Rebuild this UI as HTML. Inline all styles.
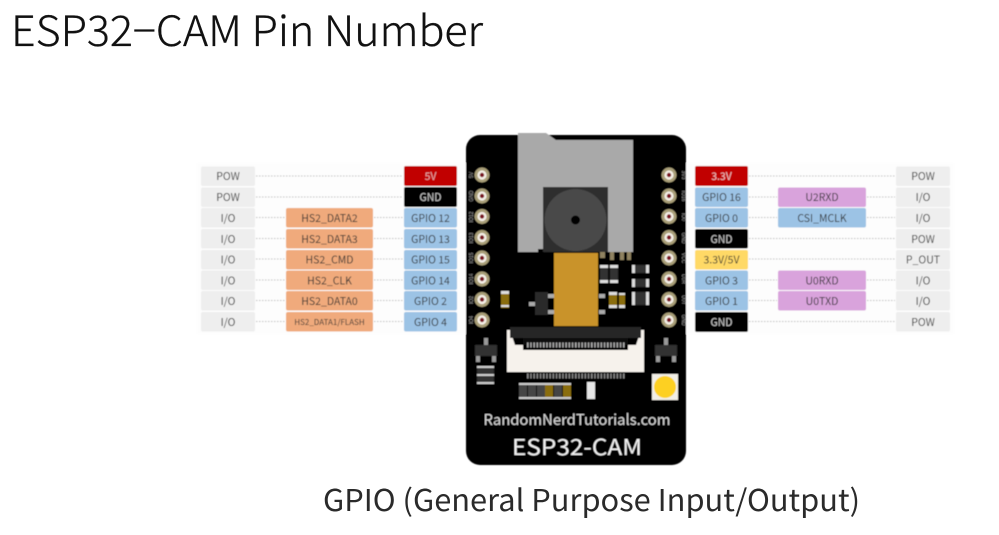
<!DOCTYPE html>
<html><head><meta charset="utf-8">
<style>
html,body{margin:0;padding:0;background:#fff;width:999px;height:535px;overflow:hidden}
svg{display:block}
.l{font-family:"Noto Sans CJK KR","Liberation Sans",sans-serif;font-size:10.5px;text-anchor:middle;fill:#333}
.w{fill:#eee}
.t{font-family:"Liberation Sans",sans-serif;font-size:5px;fill:#999;text-anchor:middle}
</style></head><body>
<svg width="999" height="535" viewBox="0 0 999 535" xmlns="http://www.w3.org/2000/svg">
<defs>
<filter id="b" x="-5%" y="-5%" width="110%" height="110%"><feGaussianBlur stdDeviation="0.55"/></filter>
<g id="pin"><circle r="7.5" fill="#a99f78"/><circle r="4.6" fill="#f4efe6"/><circle r="2.2" fill="#7a1420"/></g>
</defs>
<text x="11" y="46" font-family="'Noto Sans CJK KR','Liberation Sans',sans-serif" font-size="42" font-weight="300" fill="#111" stroke="#111" stroke-width="0.35" textLength="472" lengthAdjust="spacingAndGlyphs">ESP32−CAM Pin Number</text>
<text x="323" y="511" font-family="'Noto Sans CJK KR','Liberation Sans',sans-serif" font-size="30" fill="#2a2a2a" textLength="537" lengthAdjust="spacingAndGlyphs">GPIO (General Purpose Input/Output)</text>

<g filter="url(#b)">
<rect x="197" y="163" width="757" height="171" fill="#fdfdfd"/>
<!-- connectors -->
<g stroke="#bdbdbd" stroke-width="1" stroke-dasharray="1.5 1.5">
<path d="M256 176H403M256 197H403M256 217.500H285M374 217.500H403M256 238.500H285M374 238.500H403M256 259H285M374 259H403M256 280H285M374 280H403M256 300.500H285M374 300.500H403M256 321.500H285M374 321.500H403"/>
<path d="M749 176H895M749 197H777M867 197H895M749 217.500H777M867 217.500H895M749 238.500H895M749 259H895M749 280H777M867 280H895M749 300.500H777M867 300.500H895M749 321.500H895"/>
</g>
<!-- left POW col -->
<g class="w">
<rect x="201" y="166.500" width="54" height="19.500" rx="2"/><rect x="201" y="187.500" width="54" height="19.500" rx="2"/><rect x="201" y="208" width="54" height="19.500" rx="2"/><rect x="201" y="229" width="54" height="19.500" rx="2"/><rect x="201" y="250" width="54" height="19.500" rx="2"/><rect x="201" y="270.500" width="54" height="19.500" rx="2"/><rect x="201" y="291" width="54" height="19.500" rx="2"/><rect x="201" y="312" width="54" height="19.500" rx="2"/>
<rect x="896" y="166.500" width="54" height="19.500" rx="2"/><rect x="896" y="187.500" width="54" height="19.500" rx="2"/><rect x="896" y="208" width="54" height="19.500" rx="2"/><rect x="896" y="229" width="54" height="19.500" rx="2"/><rect x="896" y="250" width="54" height="19.500" rx="2"/><rect x="896" y="270.500" width="54" height="19.500" rx="2"/><rect x="896" y="291" width="54" height="19.500" rx="2"/><rect x="896" y="312" width="54" height="19.500" rx="2"/>
</g>
<!-- orange -->
<g fill="#f0aa7c">
<rect x="286" y="208" width="87" height="19.500" rx="2"/><rect x="286" y="229" width="87" height="19.500" rx="2"/><rect x="286" y="250" width="87" height="19.500" rx="2"/><rect x="286" y="270.500" width="87" height="19.500" rx="2"/><rect x="286" y="291" width="87" height="19.500" rx="2"/><rect x="286" y="312" width="87" height="19.500" rx="2"/>
</g>
<!-- left pins -->
<rect x="404" y="166" width="53" height="20" rx="2" fill="#c10000"/>
<rect x="404" y="187" width="53" height="20" rx="2" fill="#000"/>
<g fill="#9cc3e5">
<rect x="404" y="208" width="53" height="19.500" rx="2"/><rect x="404" y="229" width="53" height="19.500" rx="2"/><rect x="404" y="250" width="53" height="19.500" rx="2"/><rect x="404" y="270.500" width="53" height="19.500" rx="2"/><rect x="404" y="291" width="53" height="19.500" rx="2"/><rect x="404" y="312" width="53" height="19.500" rx="2"/>
</g>
<!-- right pins -->
<rect x="695" y="166" width="53" height="20" rx="2" fill="#c10000"/>
<rect x="695" y="187.500" width="53" height="19.500" rx="2" fill="#9cc3e5"/>
<rect x="695" y="208" width="53" height="19.500" rx="2" fill="#9cc3e5"/>
<rect x="695" y="229" width="53" height="19.500" rx="2" fill="#000"/>
<rect x="695" y="250" width="53" height="19.500" rx="2" fill="#ffd966"/>
<rect x="695" y="270.500" width="53" height="19.500" rx="2" fill="#9cc3e5"/>
<rect x="695" y="291" width="53" height="19.500" rx="2" fill="#9cc3e5"/>
<rect x="695" y="312" width="53" height="20" rx="2" fill="#000"/>
<!-- mid right -->
<rect x="778" y="187.500" width="88" height="19.500" rx="2" fill="#d9a3dc"/>
<rect x="778" y="208" width="88" height="19.500" rx="2" fill="#9cc3e5"/>
<rect x="778" y="270.500" width="88" height="19.500" rx="2" fill="#d9a3dc"/>
<rect x="778" y="291" width="88" height="19.500" rx="2" fill="#d9a3dc"/>

<!-- labels -->
<g class="l">
<text x="228" y="180">POW</text><text x="228" y="201">POW</text><text x="228" y="222">I/O</text><text x="228" y="243">I/O</text><text x="228" y="263.500">I/O</text><text x="228" y="284.500">I/O</text><text x="228" y="305">I/O</text><text x="228" y="326">I/O</text>
<text x="923" y="180">POW</text><text x="923" y="201">I/O</text><text x="923" y="222">I/O</text><text x="923" y="243">POW</text><text x="923" y="263.500">P_OUT</text><text x="923" y="284.500">I/O</text><text x="923" y="305">I/O</text><text x="923" y="326">POW</text>
<text x="329.500" y="222">HS2_DATA2</text><text x="329.500" y="243">HS2_DATA3</text><text x="329.500" y="263.500">HS2_CMD</text><text x="329.500" y="284.500">HS2_CLK</text><text x="329.500" y="305">HS2_DATA0</text>
<text x="329.500" y="325" style="font-size:8px">HS2_DATA1/FLASH</text>
<text x="430.500" y="180" style="fill:#e8a8a8">5V</text><text x="430.500" y="201" style="fill:#ccc">GND</text><text x="430.500" y="222">GPIO 12</text><text x="430.500" y="243">GPIO 13</text><text x="430.500" y="263.500">GPIO 15</text><text x="430.500" y="284.500">GPIO 14</text><text x="430.500" y="305">GPIO 2</text><text x="430.500" y="326">GPIO 4</text>
<text x="721.500" y="180" style="fill:#f0c0c0">3.3V</text><text x="721.500" y="201">GPIO 16</text><text x="721.500" y="222">GPIO 0</text><text x="721.500" y="243" style="fill:#ccc">GND</text><text x="721.500" y="263.500">3.3V/5V</text><text x="721.500" y="284.500">GPIO 3</text><text x="721.500" y="305">GPIO 1</text><text x="721.500" y="326" style="fill:#ccc">GND</text>
<text x="822" y="201">U2RXD</text><text x="822" y="222">CSI_MCLK</text><text x="822" y="284.500">U0RXD</text><text x="822" y="305">U0TXD</text>
</g>

<!-- board -->
<rect x="466" y="135" width="220" height="330" rx="14" fill="#000"/>
<!-- sd -->
<path d="M518 133H546L556 140H633V252H518Z" fill="#a9a9a9"/>
<rect x="543" y="187" width="65" height="65" fill="#2e2e2e"/>
<circle cx="575.500" cy="220" r="31" fill="#4a4a4a"/>
<circle cx="575.500" cy="220" r="4.500" fill="#000"/>
<rect x="538" y="249" width="5" height="5" fill="#000"/>
<g fill="#8f8260"><rect x="600" y="252" width="5" height="6"/><rect x="610" y="252" width="4" height="8"/><rect x="620" y="252" width="4" height="8"/><rect x="627" y="252" width="4" height="8"/></g>
<rect x="554" y="253" width="44" height="73" fill="#c9932a"/>
<!-- pins -->
<use href="#pin" x="482" y="175"/><use href="#pin" x="482" y="196"/><use href="#pin" x="482" y="216.500"/><use href="#pin" x="482" y="237.500"/><use href="#pin" x="482" y="258"/><use href="#pin" x="482" y="279"/><use href="#pin" x="482" y="299.500"/><use href="#pin" x="482" y="320"/>
<use href="#pin" x="669" y="175"/><use href="#pin" x="669" y="196"/><use href="#pin" x="669" y="216.500"/><use href="#pin" x="669" y="237.500"/><use href="#pin" x="669" y="258"/><use href="#pin" x="669" y="279"/><use href="#pin" x="669" y="299.500"/><use href="#pin" x="669" y="320"/>
<g class="t">
<text transform="translate(473,175) rotate(-90)">5V</text><text transform="translate(473,196) rotate(-90)">GND</text><text transform="translate(473,217) rotate(-90)">IO12</text><text transform="translate(473,238) rotate(-90)">IO13</text><text transform="translate(473,258) rotate(-90)">IO15</text><text transform="translate(473,279) rotate(-90)">IO14</text><text transform="translate(473,300) rotate(-90)">IO2</text><text transform="translate(473,320) rotate(-90)">IO4</text>
<text transform="translate(682,175) rotate(90)">3V3</text><text transform="translate(682,196) rotate(90)">IO16</text><text transform="translate(682,217) rotate(90)">IO0</text><text transform="translate(682,238) rotate(90)">GND</text><text transform="translate(682,258) rotate(90)">VCC</text><text transform="translate(682,279) rotate(90)">U0R</text><text transform="translate(682,300) rotate(90)">U0T</text><text transform="translate(682,320) rotate(90)">GND</text>
</g>
<!-- small components upper right -->
<g>
<rect x="600" y="265" width="8" height="18" fill="#333"/><rect x="600" y="265" width="8" height="3" fill="#ddd"/><rect x="600" y="280" width="8" height="3" fill="#ddd"/>
<rect x="610" y="265" width="8" height="18" fill="#333"/><rect x="610" y="265" width="8" height="3" fill="#ddd"/><rect x="610" y="280" width="8" height="3" fill="#ddd"/>
<rect x="632" y="265" width="17" height="8" fill="#333"/><rect x="632" y="265" width="3" height="8" fill="#ddd"/><rect x="646" y="265" width="3" height="8" fill="#ddd"/>
<rect x="632" y="279" width="17" height="8" fill="#333"/><rect x="632" y="279" width="3" height="8" fill="#ddd"/><rect x="646" y="279" width="3" height="8" fill="#ddd"/>
<rect x="632" y="292" width="17" height="13" fill="#333"/><rect x="632" y="292" width="3" height="13" fill="#ddd"/><rect x="646" y="292" width="3" height="13" fill="#ddd"/>
<rect x="501" y="291" width="8" height="17" fill="#8a6d10"/><rect x="501" y="291" width="8" height="3" fill="#ddd"/><rect x="501" y="305" width="8" height="2" fill="#ddd"/>
<rect x="609" y="292" width="8" height="16" fill="#8a6d10"/><rect x="609" y="292" width="8" height="3" fill="#ddd"/><rect x="609" y="305" width="8" height="3" fill="#ddd"/>
<rect x="619" y="293" width="6" height="15" fill="#8a6d10"/><rect x="619" y="293" width="6" height="2" fill="#ddd"/><rect x="619" y="305" width="6" height="3" fill="#ddd"/>
<rect x="535" y="292" width="13" height="23" fill="#2c2c2c"/><rect x="548" y="294" width="6" height="4" fill="#aaa"/><rect x="548" y="310" width="6" height="4" fill="#aaa"/><rect x="529" y="302" width="6" height="4" fill="#aaa"/>
<rect x="599" y="294" width="6" height="4" fill="#aaa"/><rect x="599" y="310" width="6" height="4" fill="#aaa"/>
</g>
<!-- connector -->
<path d="M507 330H510L515 345L523 345V350H628V345L636 345L641 330H644V372H507Z" fill="#f6f2ec"/>
<rect x="510" y="327" width="131" height="11" fill="#252525"/>
<path d="M523 338H628V345H523Z" fill="#111"/>
<path d="M527 345H625" stroke="#aaa" stroke-width="5" stroke-dasharray="1.500 1.700"/>
<path d="M527 376H625" stroke="#888" stroke-width="5" stroke-dasharray="1.500 1.700"/>
<!-- transistors -->
<rect x="475" y="345" width="22" height="11" fill="#333"/><rect x="484" y="338" width="4" height="7" fill="#999"/><rect x="476" y="356" width="4" height="6" fill="#999"/><rect x="492" y="356" width="4" height="6" fill="#999"/>
<rect x="655" y="345" width="22" height="11" fill="#333"/><rect x="664" y="338" width="4" height="7" fill="#999"/><rect x="656" y="356" width="4" height="6" fill="#999"/><rect x="672" y="356" width="4" height="6" fill="#999"/>
<rect x="477" y="366" width="17" height="18" fill="#333"/><rect x="477" y="366" width="17" height="2" fill="#ccc"/><rect x="477" y="374" width="17" height="2" fill="#ccc"/><rect x="477" y="382" width="17" height="2" fill="#ccc"/>
<!-- res row -->
<g>
<rect x="519" y="383" width="8" height="16" fill="#444"/><rect x="528" y="383" width="8" height="16" fill="#444"/><rect x="537" y="383" width="8" height="16" fill="#444"/><rect x="545" y="383" width="8" height="16" fill="#8a6d10"/><rect x="554" y="383" width="8" height="16" fill="#444"/><rect x="563" y="383" width="8" height="16" fill="#8a6d10"/>
<rect x="519" y="383" width="52" height="2" fill="#ccc"/><rect x="519" y="397" width="52" height="2" fill="#ccc"/>
<rect x="587" y="382" width="8" height="17" fill="#e6e6e6"/>
</g>
<!-- LED -->
<rect x="652" y="374" width="26" height="26" fill="#f2efe6"/>
<circle cx="665" cy="387" r="11" fill="#fdd022"/>
<text x="577" y="425" font-family="'Noto Sans CJK KR','Liberation Sans',sans-serif" font-size="15" fill="#d8d8d8" text-anchor="middle" textLength="187" lengthAdjust="spacingAndGlyphs">RandomNerdTutorials.com</text>
<text x="577" y="455" font-family="'Noto Sans CJK KR','Liberation Sans',sans-serif" font-size="22" fill="#f2f2f2" text-anchor="middle" textLength="130" lengthAdjust="spacingAndGlyphs">ESP32-CAM</text>
</g>
</svg>
</body></html>
